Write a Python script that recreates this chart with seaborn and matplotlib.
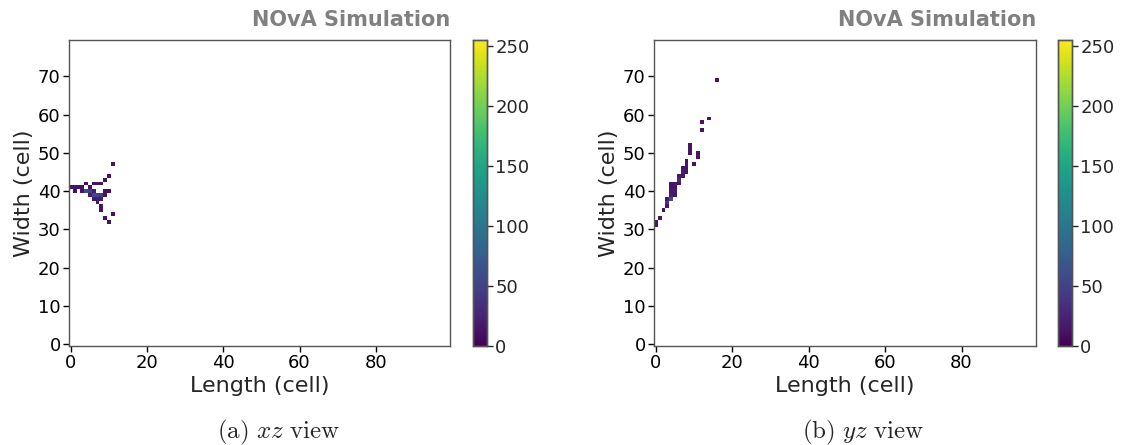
import numpy as np
import pandas as pd
import seaborn as sns
import matplotlib
matplotlib.use("Agg")
import matplotlib.pyplot as plt

sns.set_style("white")
plt.rcParams['font.family'] = ['DejaVu Sans']
plt.rcParams['mathtext.fontset'] = 'cm'

N_LEN, N_WID = 100, 80

# xz view hits: length index, width index, charge value
xz_len = [0, 1, 2, 3, 1, 3, 4, 5, 6, 4, 6, 7, 8, 9, 10, 11,
          5, 6, 7, 8, 9, 6, 7, 8, 7, 8, 8, 10, 11, 9, 10, 5, 9]
xz_wid = [41, 41, 41, 41, 40, 40, 40, 40, 40, 42, 42, 42, 42, 43, 44, 47,
          39, 39, 39, 39, 39, 38, 38, 38, 37, 36, 35, 40, 34, 33, 32, 41, 40]
xz_val = [12, 14, 10, 12, 10, 12, 60, 45, 20, 12, 12, 14, 12, 10, 12, 12,
          20, 55, 50, 45, 12, 15, 20, 18, 14, 12, 12, 10, 10, 10, 12, 12, 10]

# yz view hits
yz_len = [0, 0, 1, 2, 3, 3, 3, 4, 4, 4, 4, 5, 5, 5, 6, 6, 6,
          7, 7, 7, 8, 8, 8, 8, 9, 9, 9, 10, 11, 11, 12, 12, 14, 16, 4, 5]
yz_wid = [31, 32, 33, 35, 36, 37, 38, 39, 40, 41, 42, 41, 42, 40, 42, 43, 44,
          44, 45, 46, 45, 46, 47, 48, 50, 51, 52, 47, 49, 50, 56, 58, 59, 69, 38, 39]
yz_val = [14, 12, 12, 12, 12, 40, 18, 20, 16, 14, 12, 14, 16, 18, 14, 30, 16,
          16, 20, 14, 12, 14, 16, 12, 12, 14, 12, 12, 12, 14, 12, 12, 12, 14, 60, 12]

VMIN, VMAX = 0, 255


def make_grid(ls, ws, vs):
    g = np.full((N_WID, N_LEN), np.nan)
    for l, w, v in zip(ls, ws, vs):
        g[w, l] = v
    return pd.DataFrame(g)


fig = plt.figure(figsize=(11.22, 4.45), dpi=100)
W, H = 1122, 445


def px_ax(x0, y0, x1, y1):
    return fig.add_axes([x0 / W, 1 - y1 / H, (x1 - x0) / W, (y1 - y0) / H])


panels = [
    (make_grid(xz_len, xz_wid, xz_val), 69, 450, 473, 487,
     r"$\mathrm{(a)}\ xz\ \mathrm{view}$", 279),
    (make_grid(yz_len, yz_wid, yz_val), 654, 1036, 1058, 1072,
     r"$\mathrm{(b)}\ yz\ \mathrm{view}$", 863),
]

spine_col = '#555555'
for grid, ax0, ax1, c0, c1, cap, capx in panels:
    ax = px_ax(ax0, 40, ax1, 346)
    cax = px_ax(c0, 40, c1, 346)
    sns.heatmap(grid, ax=ax, cbar_ax=cax, cmap='viridis', vmin=VMIN, vmax=VMAX,
                xticklabels=False, yticklabels=False)
    ax.invert_yaxis()
    ax.set_ylim(0, N_WID)
    ax.set_xlim(0, N_LEN)
    xt = [0, 20, 40, 60, 80]
    yt = [0, 10, 20, 30, 40, 50, 60, 70]
    ax.set_xticks([t + 0.5 for t in xt])
    ax.set_xticklabels([str(t) for t in xt])
    ax.set_yticks([t + 0.5 for t in yt])
    ax.set_yticklabels([str(t) for t in yt], rotation=0)
    ax.tick_params(axis='both', labelsize=13, length=4, width=1, colors='black',
                   left=True, bottom=True, direction='out', pad=2)
    for s in ax.spines.values():
        s.set_visible(True)
        s.set_color(spine_col)
        s.set_linewidth(1.0)
    ax.set_xlabel("Length (cell)", fontsize=16, labelpad=3)
    ax.set_ylabel("Width (cell)", fontsize=16, labelpad=3)
    ax.set_title("NOvA Simulation", loc='right', fontsize=15, fontweight='bold',
                 color='#808080', pad=10)
    cax.set_yticks([0, 50, 100, 150, 200, 250])
    cax.tick_params(labelsize=13, length=4, width=1, right=True, pad=2)
    for s in cax.spines.values():
        s.set_visible(True)
        s.set_color(spine_col)
        s.set_linewidth(1.0)
    fig.text(capx / W, 1 - 432 / H, cap, ha='center', va='center', fontsize=18)

fig.savefig("out.png", dpi=100)
